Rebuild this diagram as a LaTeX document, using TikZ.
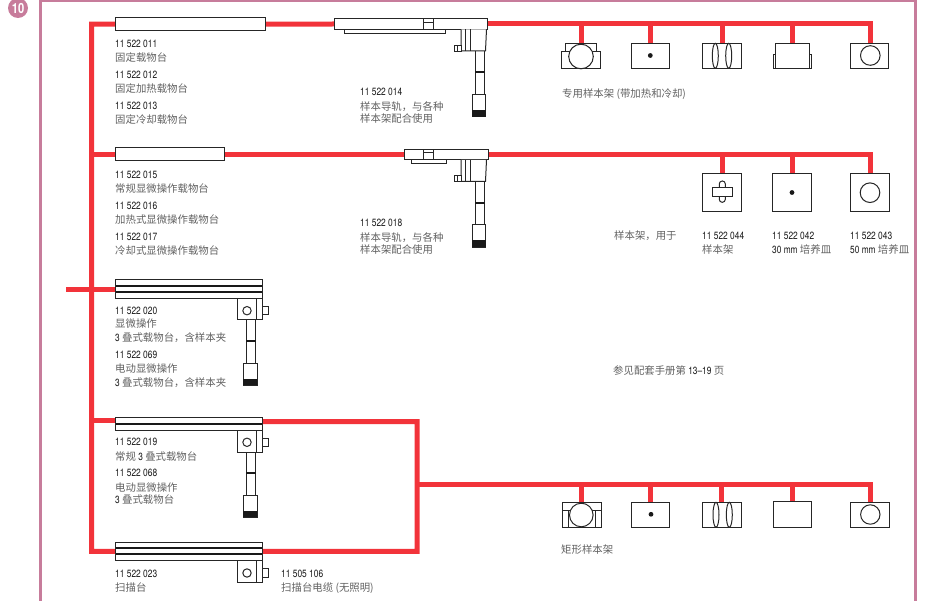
\documentclass[tikz,border=0pt]{standalone}
\usepackage{fontspec}
\usetikzlibrary{backgrounds}
\setmainfont[FakeStretch=0.8]{TeX Gyre Heros}
\newfontfamily\cjkf{Noto Sans CJK SC}
\definecolor{busred}{HTML}{F2333A}
\definecolor{framepink}{HTML}{C77C9B}
\tikzset{
  redline/.style={draw=busred,line width=5pt,line join=miter},
  part/.style={draw=black!85,fill=white,line width=1pt,inner sep=0pt,outer sep=0pt,rectangle},
  detail/.style={draw=black!85,line width=1pt},
  thick detail/.style={draw=black!90,line width=1.7pt},
  numlabel/.style={anchor=west,inner sep=0pt,text=black!90,font=\fontsize{10.5}{10.5}\selectfont},
  zhlabel/.style={anchor=west,inner sep=0pt,yshift=-0.7pt,text=black!62,font=\fontsize{10.4}{10.4}\selectfont\cjkf},
}
\newcommand{\partnode}[5]{\node[part,minimum width={(#4-#2)*1pt},minimum height={(#5-#3)*1pt}] (#1) at ({(#2+#4)/2},{(#3+#5)/2}) {};}
\newcommand{\ltn}[1]{{\fontspec[FakeStretch=0.8]{TeX Gyre Heros}\color{black!90}#1}}
\newcommand{\handle}[7]{%
  \draw[detail] (#1,#2) -- (#1,#4) (#1+9.5,#2) -- (#1+9.5,#4);
  \draw[thick detail] (#1,#3) -- (#1+9.5,#3);
  \draw[detail,fill=white] (#1-2.7,#4) rectangle (#7,#5);
  \fill[black!90] (#1-2.7,#6) rectangle (#7,#5);
}
\newcommand{\carriage}[3]{%
  \draw[detail,fill=white] (237.3,#1) rectangle (262.3,#2);
  \draw[detail] (256.9,#1) -- (256.9,#2);
  \draw[detail] (247,#3) circle[radius=4.2];
  \draw[detail,fill=white] (262.3,#3-4.2) rectangle (268.3,#3+4.2);
}
\newcommand{\railblock}[1]{%
  \begin{scope}[yshift={-(#1)*1pt}]
  \draw[detail,fill=white] (461,29.3) -- (461,51) -- (485.5,51) -- (486.5,29.3);
  \draw[detail] (465.7,29.3) -- (465.7,51) (470,29.3) -- (470,51);
  \draw[detail,fill=white] (454,45.3) rectangle (461,51.3);
  \draw[detail] (457.3,45.3) -- (457.3,51.3);
  \draw[detail] (423.3,18.7) rectangle (433.3,29.3) (423.3,22.3) -- (433.3,22.3);
  \end{scope}
}
\begin{document}
\begin{tikzpicture}[x=1pt,y=-1pt]
\useasboundingbox (0,0) rectangle (926,601);
\draw[framepink,line width=2.6pt] (40.5,603) -- (40.5,1.2) -- (915.6,1.2) -- (915.6,603);
\node[circle,fill=framepink,text=white,inner sep=0pt,minimum size=20pt,font=\bfseries\fontsize{14}{14}\selectfont] (badge) at (18,8) {10};

% stages
\partnode{s1}{115.7}{17.7}{265}{30.7}
\partnode{s2}{115.7}{148}{224}{161}
\partnode{s3}{115.5}{280}{262.3}{298.3}
\draw[thick detail] (115.5,285.9) -- (262.3,285.9) (115.5,292) -- (262.3,292);
\partnode{s4}{115.7}{417.3}{262.3}{430}
\draw[thick detail] (115.7,423.7) -- (262.3,423.7);
\partnode{s5}{115.7}{542}{262.3}{560.7}
\draw[thick detail] (115.7,548.3) -- (262.3,548.3) (115.7,554.3) -- (262.3,554.3);
\carriage{298.3}{320}{310.7}
\carriage{430}{452.3}{442.3}
\carriage{560.7}{582.3}{573}
\handle{246}{320}{341.3}{363.3}{385.3}{379}{257.3}
\handle{246}{452.3}{473.3}{495}{517}{511}{257.3}

% rails
\partnode{r1}{334}{18.7}{487.7}{29.3}
\draw[detail,fill=white] (344.3,29.3) rectangle (445.3,33.5);
\railblock{0}
\handle{475}{51}{72.3}{94.3}{116.7}{110}{485.7}
\partnode{r2}{404.3}{149.2}{488.3}{159.8}
\draw[detail,fill=white] (411.7,159.8) rectangle (446,164);
\railblock{130.5}
\handle{475}{181.5}{202.8}{224.8}{247.2}{240.5}{485.7}

% row 1 holders
\partnode{a1}{565.7}{44}{596.7}{69}
\draw[detail,fill=white] (561.7,51.7) rectangle (600,69);
\draw[detail,fill=white] (581,56.5) circle[radius=12.3];
\partnode{a2}{631}{43.3}{669.3}{68.3}
\fill[black!90] (650.3,55.5) circle[radius=2.4];
\partnode{a3}{702.7}{43.3}{741}{68.3}
\draw[detail] (715.3,55.8) ellipse[x radius=3,y radius=12.5] (728.7,55.8) ellipse[x radius=3,y radius=12.5];
\draw[detail] (773.3,68.3) -- (773.3,55) -- (775.7,55) (811.7,68.3) -- (811.7,55) -- (809.3,55) (773.3,68.3) -- (811.7,68.3);
\partnode{a4}{775.7}{43.3}{809.3}{68.3}
\partnode{a5}{850.3}{43.3}{888.7}{68.3}
\draw[detail] (870.3,55.5) circle[radius=9.8];

% row 2 holders
\partnode{b1}{702.7}{173.3}{741.7}{211.3}
\draw[detail,rounded corners=2.9pt] (719.3,181) rectangle (725.3,202.3);
\draw[detail,fill=white] (712.3,187.7) rectangle (732.7,196.7);
\partnode{b2}{772.7}{173.3}{811.3}{211.3}
\fill[black!90] (792,192.5) circle[radius=2.4];
\partnode{b3}{850.3}{173.3}{889}{211.3}
\draw[detail] (870,192.7) circle[radius=9.8];

% row 3 holders
\partnode{c1}{562.3}{502.3}{601}{527.3}
\draw[detail] (562.3,510) -- (601,510) (568.3,510) -- (568.3,527.3) (595,510) -- (595,527.3);
\draw[detail,fill=white] (581.3,515) circle[radius=11.8];
\partnode{c2}{631}{502.3}{669.3}{527.3}
\fill[black!90] (651,514.3) circle[radius=2.4];
\partnode{c3}{702.7}{502.3}{741}{527.3}
\draw[detail] (716,514.8) ellipse[x radius=3,y radius=12.5] (729.3,514.8) ellipse[x radius=3,y radius=12.5];
\partnode{c4}{773.3}{501.3}{811.7}{527.3}
\partnode{c5}{850.3}{502.3}{889}{527.3}
\draw[detail] (870.3,514.5) circle[radius=9.7];

% named points of the bus
\coordinate (tl) at (91.7,24.2);
\coordinate (bl) at (91.7,551.35);
\coordinate (feed) at (66,289.15);
\coordinate (j2) at (91.7,154.5);
\coordinate (j3) at (91.7,289.15);
\coordinate (j4) at (91.7,420.9);
\coordinate (s4l) at (115.7,420.9);
\coordinate (s4r) at (262.3,421.7);
\coordinate (loopt) at (417,421.7);
\coordinate (loopb) at (417,551.35);
\coordinate (loopm) at (417,484);
\coordinate (tc) at (870.2,484);
\coordinate (a3top) at (722,44);
\coordinate (c2top) at (650,503);
\coordinate (r1end) at (870.2,24);
\coordinate (r2end) at (870.2,154.5);

\begin{pgfonlayer}{background}
\draw[redline] (s1.west) -- (tl) -- (bl) -- (s5.west);
\draw[redline] (j2) -- (s2.west);
\draw[redline] (feed) -- (s3.west);
\draw[redline] (j4) -- (s4l);
\draw[redline] (s1.east) -- (r1.west);
\draw[redline] (s2.east) -- (r2.west);
\draw[redline] (r1.east) -- (r1end) -- (r1end |- a5.north);
\draw[redline] (r2.east) -- (r2end) -- (r2end |- b3.north);
\foreach \h in {a1,a2,a4} { \draw[redline] (\h.north) -- (\h.north |- r1.east); }
\draw[redline] (a3top) -- (a3top |- r1.east);
\foreach \h in {b1,b2} { \draw[redline] (\h.north) -- (\h.north |- r2.east); }
\draw[redline] (s4r) -- (loopt) -- (loopb) -- (s5.east);
\draw[redline] (loopm) -- (tc) -- (tc |- c5.north);
\foreach \h in {c1,c3,c4} { \draw[redline] (\h.north) -- (\h.north |- tc); }
\draw[redline] (c2top) -- (c2top |- tc);
\end{pgfonlayer}

% texts
\node[numlabel] (t1) at (115,43.5) {11 522 011};
\node[zhlabel] (t2) at (115,57) {固定载物台};
\node[numlabel] (t3) at (115,74.5) {11 522 012};
\node[zhlabel] (t4) at (115,88) {固定加热载物台};
\node[numlabel] (t5) at (115,105.5) {11 522 013};
\node[zhlabel] (t6) at (115,119) {固定冷却载物台};
\node[numlabel] (t7) at (115,174.5) {11 522 015};
\node[zhlabel] (t8) at (115,187.5) {常规显微操作载物台};
\node[numlabel] (t9) at (115,205.5) {11 522 016};
\node[zhlabel] (t10) at (115,218.5) {加热式显微操作载物台};
\node[numlabel] (t11) at (115,236.5) {11 522 017};
\node[zhlabel] (t12) at (115,249.5) {冷却式显微操作载物台};
\node[numlabel] (t13) at (360,92) {11 522 014};
\node[zhlabel] (t14) at (360,105.5) {样本导轨，与各种};
\node[zhlabel] (t15) at (360,118) {样本架配合使用};
\node[numlabel] (t16) at (360,222.7) {11 522 018};
\node[zhlabel] (t17) at (360,236.5) {样本导轨，与各种};
\node[zhlabel] (t18) at (360,248.5) {样本架配合使用};
\node[zhlabel] (t19) at (562,93) {专用样本架 (带加热和冷却)};
\node[zhlabel] (t20) at (614,235) {样本架，用于};
\node[numlabel] (t21) at (702,236) {11 522 044};
\node[zhlabel] (t22) at (702,248.7) {样本架};
\node[numlabel] (t23) at (772,236) {11 522 042};
\node[zhlabel] (t24) at (772,248.7) {\ltn{30 mm} 培养皿};
\node[numlabel] (t25) at (850,236) {11 522 043};
\node[zhlabel] (t26) at (850,248.7) {\ltn{50 mm} 培养皿};
\node[numlabel] (t27) at (115,310.5) {11 522 020};
\node[zhlabel] (t28) at (115,323) {显微操作};
\node[zhlabel] (t29) at (115,336.7) {\ltn{3} 叠式载物台，含样本夹};
\node[numlabel] (t30) at (115,354.5) {11 522 069};
\node[zhlabel] (t31) at (115,368) {电动显微操作};
\node[zhlabel] (t32) at (115,381.5) {\ltn{3} 叠式载物台，含样本夹};
\node[zhlabel] (t33) at (613,369.5) {参见配套手册第 \ltn{13–19} 页};
\node[numlabel] (t34) at (115,442) {11 522 019};
\node[zhlabel] (t35) at (115,455.5) {常规 \ltn{3} 叠式载物台};
\node[numlabel] (t36) at (115,473) {11 522 068};
\node[zhlabel] (t37) at (115,486.5) {电动显微操作};
\node[zhlabel] (t38) at (115,499) {\ltn{3} 叠式载物台};
\node[numlabel] (t39) at (115,574) {11 522 023};
\node[zhlabel] (t40) at (115,587) {扫描台};
\node[numlabel] (t41) at (281,574) {11 505 106};
\node[zhlabel] (t42) at (281,587) {扫描台电缆 (无照明)};
\node[zhlabel] (t43) at (561,549) {矩形样本架};
\end{tikzpicture}
\end{document}
